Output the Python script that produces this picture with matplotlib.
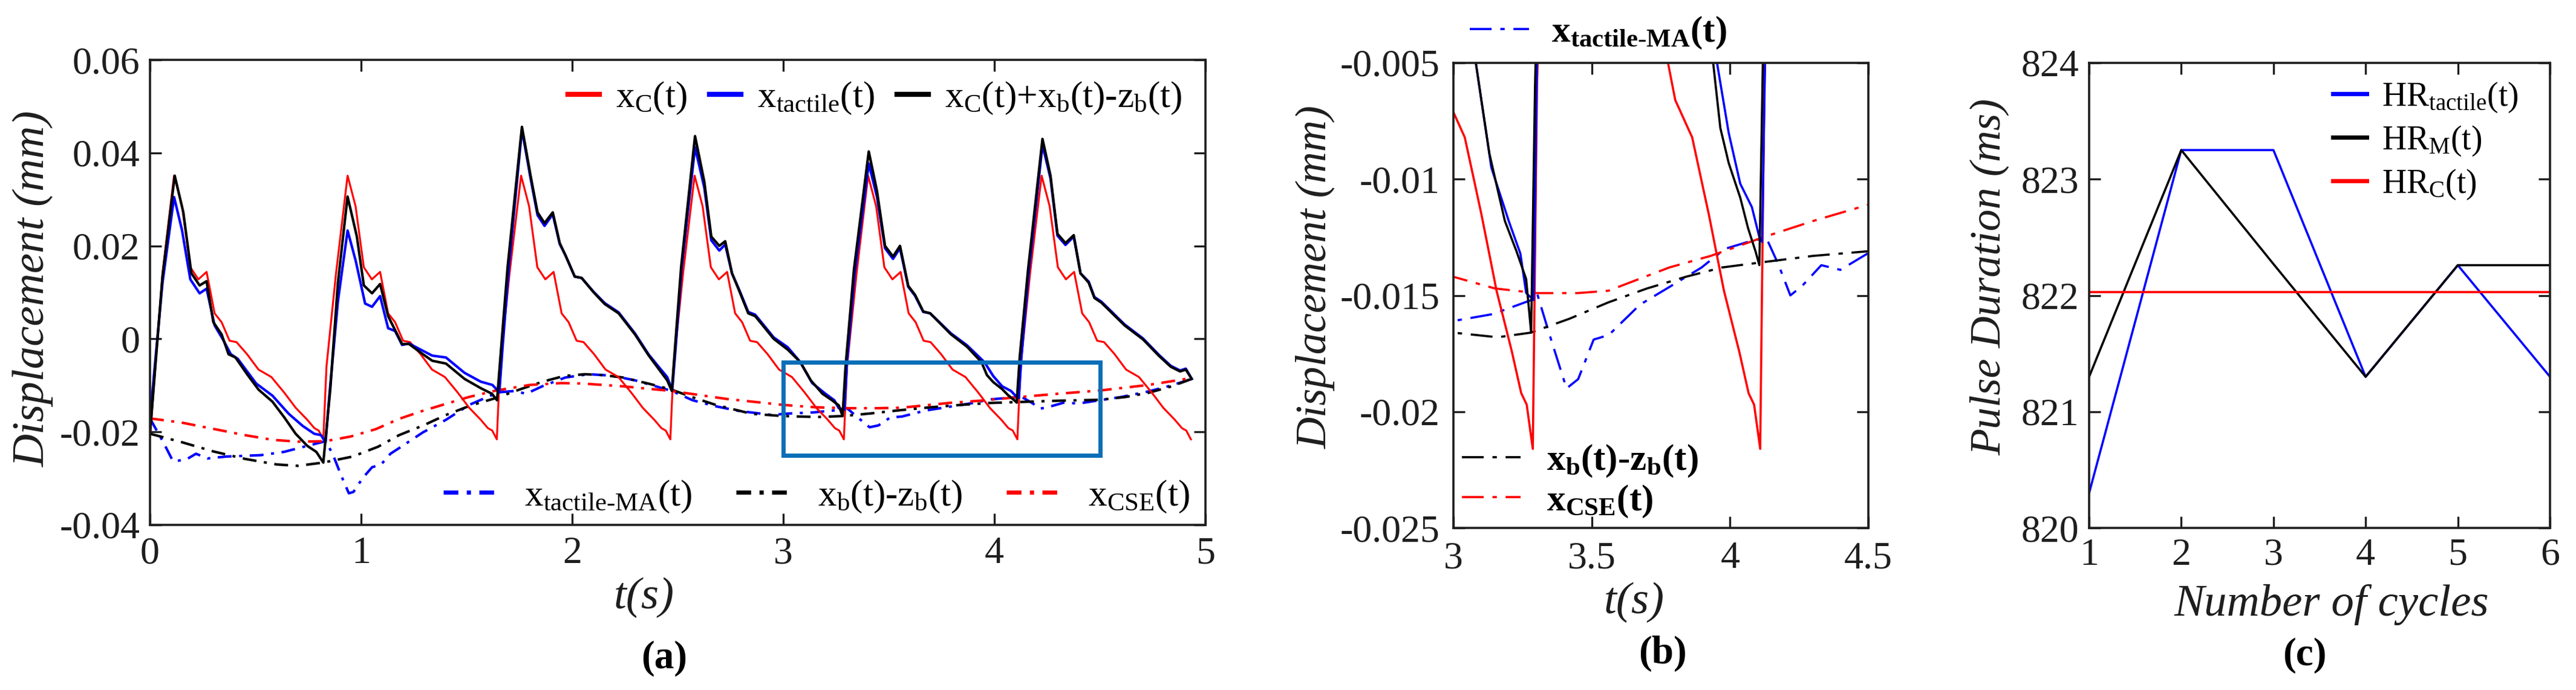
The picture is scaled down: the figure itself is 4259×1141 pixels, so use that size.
import matplotlib
matplotlib.use('Agg')
import matplotlib.pyplot as plt
from matplotlib.patches import Rectangle
from matplotlib.ticker import FuncFormatter

plt.rcParams['font.family'] = 'Liberation Serif'
plt.rcParams['mathtext.fontset'] = 'custom'
plt.rcParams['mathtext.rm'] = 'Liberation Serif'
plt.rcParams['mathtext.it'] = 'Liberation Serif:italic'
plt.rcParams['mathtext.bf'] = 'Liberation Serif:bold'
plt.rcParams['axes.unicode_minus'] = False

# ---- data (t in s, displacement in mm) ----
# x_C(t), red solid
t_c = [0.000, 0.059, 0.114, 0.152, 0.191, 0.229, 0.268, 0.306, 0.339, 0.377, 0.410, 0.460, 0.514, 0.575, 0.635, 0.690, 0.745, 0.779, 0.799,
       0.821, 0.836, 0.881, 0.936, 0.974, 1.013, 1.051, 1.090, 1.128, 1.161, 1.199, 1.232, 1.282, 1.336, 1.397, 1.457, 1.512, 1.567, 1.601, 1.621,
       1.643, 1.658, 1.703, 1.758, 1.796, 1.835, 1.873, 1.912, 1.950, 1.983, 2.021, 2.054, 2.104, 2.158, 2.219, 2.279, 2.334, 2.389, 2.423, 2.443,
       2.465, 2.480, 2.525, 2.580, 2.618, 2.657, 2.695, 2.734, 2.772, 2.805, 2.843, 2.876, 2.926, 2.980, 3.041, 3.101, 3.156, 3.211, 3.245, 3.265,
       3.287, 3.302, 3.347, 3.402, 3.440, 3.479, 3.517, 3.556, 3.594, 3.627, 3.665, 3.698, 3.748, 3.802, 3.863, 3.923, 3.978, 4.033, 4.067, 4.087,
       4.109, 4.124, 4.169, 4.224, 4.262, 4.301, 4.339, 4.378, 4.416, 4.449, 4.487, 4.520, 4.570, 4.624, 4.685, 4.745, 4.800, 4.855, 4.889, 4.909,
       4.931]
x_c = [-0.0212, 0.0140, 0.0351, 0.0285, 0.0154, 0.0128, 0.0144, 0.0055, 0.0036, -0.0004, -0.0007, -0.0033, -0.0066, -0.0082, -0.0115, -0.0148, -0.0174, -0.0192, -0.0197,
       -0.0216, -0.0060, 0.0140, 0.0351, 0.0285, 0.0154, 0.0128, 0.0144, 0.0055, 0.0036, -0.0004, -0.0007, -0.0033, -0.0066, -0.0082, -0.0115, -0.0148, -0.0174, -0.0192, -0.0197,
       -0.0216, -0.0060, 0.0140, 0.0351, 0.0285, 0.0154, 0.0128, 0.0144, 0.0055, 0.0036, -0.0004, -0.0007, -0.0033, -0.0066, -0.0082, -0.0115, -0.0148, -0.0174, -0.0192, -0.0197,
       -0.0216, -0.0060, 0.0140, 0.0351, 0.0285, 0.0154, 0.0128, 0.0144, 0.0055, 0.0036, -0.0004, -0.0007, -0.0033, -0.0066, -0.0082, -0.0115, -0.0148, -0.0174, -0.0192, -0.0197,
       -0.0216, -0.0060, 0.0140, 0.0351, 0.0285, 0.0154, 0.0128, 0.0144, 0.0055, 0.0036, -0.0004, -0.0007, -0.0033, -0.0066, -0.0082, -0.0115, -0.0148, -0.0174, -0.0192, -0.0197,
       -0.0216, -0.0060, 0.0140, 0.0351, 0.0285, 0.0154, 0.0128, 0.0144, 0.0055, 0.0036, -0.0004, -0.0007, -0.0033, -0.0066, -0.0082, -0.0115, -0.0148, -0.0174, -0.0192, -0.0197,
       -0.0216]

# x_C(t)+x_b(t)-z_b(t), black solid
t_comb = [0.000, 0.059, 0.117, 0.158, 0.196, 0.235, 0.268, 0.300, 0.339, 0.372, 0.405, 0.460, 0.514, 0.580, 0.635, 0.690, 0.745, 0.788, 0.821,
          0.854, 0.890, 0.936, 0.980, 1.013, 1.052, 1.090, 1.128, 1.161, 1.194, 1.227, 1.293, 1.337, 1.402, 1.490, 1.567, 1.620, 1.644,
          1.660, 1.694, 1.762, 1.803, 1.836, 1.869, 1.908, 1.941, 1.968, 2.012, 2.045, 2.100, 2.154, 2.220, 2.297, 2.363, 2.417, 2.450, 2.472,
          2.487, 2.516, 2.582, 2.626, 2.659, 2.697, 2.725, 2.757, 2.790, 2.834, 2.867, 2.955, 3.021, 3.081, 3.130, 3.186, 3.228, 3.263, 3.281,
          3.295, 3.335, 3.405, 3.444, 3.482, 3.520, 3.553, 3.592, 3.624, 3.663, 3.696, 3.794, 3.871, 3.939, 3.965, 3.995, 4.037, 4.065, 4.092, 4.106,
          4.120, 4.160, 4.228, 4.266, 4.299, 4.337, 4.376, 4.408, 4.447, 4.474, 4.507, 4.617, 4.704, 4.781, 4.836, 4.880, 4.907, 4.935]
x_comb = [-0.0204, 0.0134, 0.0351, 0.0272, 0.0141, 0.0115, 0.0124, 0.0036, 0.0010, -0.0033, -0.0040, -0.0076, -0.0109, -0.0135, -0.0168, -0.0204, -0.0230, -0.0243, -0.0266,
          -0.0109, 0.0120, 0.0306, 0.0220, 0.0115, 0.0098, 0.0118, 0.0049, 0.0019, -0.0011, -0.0011, -0.0033, -0.0047, -0.0053, -0.0086, -0.0106, -0.0118, -0.0132,
          -0.0040, 0.0154, 0.0456, 0.0351, 0.0272, 0.0249, 0.0272, 0.0206, 0.0180, 0.0134, 0.0131, 0.0101, 0.0075, 0.0055, 0.0010, -0.0036, -0.0069, -0.0089, -0.0112,
          -0.0020, 0.0154, 0.0436, 0.0338, 0.0220, 0.0200, 0.0210, 0.0141, 0.0105, 0.0055, 0.0049, 0.0000, -0.0023, -0.0050, -0.0089, -0.0118, -0.0131, -0.0143, -0.0166,
          -0.0060, 0.0150, 0.0403, 0.0318, 0.0200, 0.0177, 0.0200, 0.0114, 0.0095, 0.0059, 0.0055, 0.0010, -0.0017, -0.0050, -0.0078, -0.0093, -0.0108, -0.0121, -0.0131, -0.0137,
          -0.0040, 0.0150, 0.0430, 0.0351, 0.0226, 0.0206, 0.0223, 0.0141, 0.0121, 0.0088, 0.0078, 0.0029, -0.0001, -0.0037, -0.0060, -0.0070, -0.0066, -0.0086]

# x_tactile(t), blue solid
t_tac = [0.000, 0.059, 0.114, 0.152, 0.191, 0.235, 0.268, 0.306, 0.344, 0.383, 0.416, 0.503, 0.580, 0.657, 0.723, 0.778, 0.810, 0.832,
         0.850, 0.890, 0.936, 0.975, 1.019, 1.052, 1.090, 1.128, 1.161, 1.194, 1.227, 1.337, 1.402, 1.490, 1.567, 1.622, 1.655,
         1.670, 1.700, 1.762, 1.803, 1.836, 1.869, 1.908, 1.941, 1.968, 2.012, 2.045, 2.100, 2.154, 2.220, 2.297, 2.363, 2.417, 2.450, 2.474,
         2.490, 2.518, 2.582, 2.626, 2.659, 2.697, 2.725, 2.757, 2.790, 2.834, 2.867, 2.955, 3.021, 3.081, 3.137, 3.200, 3.242, 3.263, 3.290,
         3.302, 3.338, 3.405, 3.444, 3.482, 3.520, 3.553, 3.592, 3.624, 3.663, 3.696, 3.794, 3.871, 3.953, 3.995, 4.037, 4.079, 4.106, 4.116,
         4.128, 4.162, 4.228, 4.266, 4.299, 4.337, 4.376, 4.408, 4.447, 4.474, 4.507, 4.617, 4.704, 4.781, 4.836, 4.880, 4.907, 4.935]
x_tac = [-0.0171, 0.0120, 0.0305, 0.0233, 0.0128, 0.0098, 0.0108, 0.0029, 0.0000, -0.0033, -0.0043, -0.0096, -0.0122, -0.0161, -0.0187, -0.0204, -0.0207, -0.0222,
         -0.0120, 0.0080, 0.0233, 0.0167, 0.0076, 0.0069, 0.0092, 0.0023, 0.0017, -0.0013, -0.0010, -0.0036, -0.0040, -0.0073, -0.0092, -0.0099, -0.0115,
         -0.0020, 0.0154, 0.0450, 0.0345, 0.0266, 0.0243, 0.0268, 0.0204, 0.0180, 0.0134, 0.0131, 0.0102, 0.0077, 0.0057, 0.0012, -0.0034, -0.0064, -0.0082, -0.0110,
         -0.0020, 0.0150, 0.0412, 0.0325, 0.0212, 0.0190, 0.0203, 0.0141, 0.0107, 0.0058, 0.0052, 0.0003, -0.0018, -0.0050, -0.0095, -0.0118, -0.0132, -0.0149, -0.0152,
         -0.0050, 0.0140, 0.0377, 0.0305, 0.0195, 0.0172, 0.0195, 0.0112, 0.0093, 0.0058, 0.0055, 0.0012, -0.0014, -0.0050, -0.0080, -0.0102, -0.0112, -0.0125, -0.0127,
         -0.0040, 0.0140, 0.0417, 0.0345, 0.0222, 0.0202, 0.0220, 0.0141, 0.0123, 0.0090, 0.0080, 0.0031, 0.0001, -0.0035, -0.0058, -0.0068, -0.0064, -0.0086]

# x_tactile-MA(t), blue dash-dot
t_ma = [0.000, 0.065, 0.109, 0.169, 0.218, 0.273, 0.361, 0.525, 0.635, 0.745, 0.832, 0.865, 0.904, 0.942, 0.964, 1.008, 1.052, 1.095,
        1.139, 1.183, 1.293, 1.402, 1.512, 1.649, 1.727, 1.782, 1.858, 1.968, 2.078, 2.187, 2.297, 2.472, 2.571, 2.681, 2.790, 2.955,
        3.000, 3.144, 3.281, 3.302, 3.353, 3.409, 3.451, 3.507, 3.562, 3.674, 3.786, 3.897, 3.981, 4.092, 4.134, 4.176, 4.218, 4.260,
        4.330, 4.399, 4.497, 4.600, 4.730, 4.840, 4.935]
x_ma = [-0.0171, -0.0224, -0.0263, -0.0260, -0.0247, -0.0257, -0.0253, -0.0250, -0.0243, -0.0230, -0.0220, -0.0247, -0.0292, -0.0332, -0.0329, -0.0299, -0.0276, -0.0270,
        -0.0247, -0.0234, -0.0201, -0.0174, -0.0142, -0.0115, -0.0112, -0.0118, -0.0102, -0.0083, -0.0076, -0.0079, -0.0089, -0.0112, -0.0132, -0.0145, -0.0155, -0.0164,
        -0.0161, -0.0158, -0.0152, -0.0149, -0.0169, -0.0190, -0.0186, -0.0169, -0.0167, -0.0154, -0.0146, -0.0138, -0.0130, -0.0126, -0.0126, -0.0137, -0.0150, -0.0146,
        -0.0137, -0.0139, -0.0132, -0.0125, -0.0113, -0.0100, -0.0086]

# x_b(t)-z_b(t), black dash-dot
t_bz = [0.00, 0.15, 0.30, 0.45, 0.60, 0.70, 0.82, 0.96, 1.08, 1.18, 1.30, 1.40, 1.52, 1.64, 1.75, 1.86, 1.96, 2.06, 2.15, 2.24,
        2.36, 2.47, 2.58, 2.68, 2.85, 3.00, 3.16, 3.28, 3.42, 3.56, 3.70, 3.84, 3.97, 4.10, 4.30, 4.50, 4.62, 4.73, 4.84, 4.935]
x_bz = [-0.0204, -0.0222, -0.0242, -0.0258, -0.0270, -0.0273, -0.0266, -0.0253, -0.0232, -0.0207, -0.0185, -0.0164, -0.0143, -0.0127, -0.0109, -0.0092, -0.0080, -0.0076, -0.0078, -0.0083,
        -0.0096, -0.0109, -0.0127, -0.0142, -0.0161, -0.0166, -0.0168, -0.0166, -0.0160, -0.0153, -0.0147, -0.0142, -0.0138, -0.0136, -0.0133, -0.0131, -0.0125, -0.0116, -0.0102, -0.0086]

# x_CSE(t), red dash-dot
t_cse = [0.00, 0.15, 0.306, 0.45, 0.58, 0.70, 0.83, 0.95, 1.07, 1.18, 1.29, 1.40, 1.51, 1.64, 1.80, 1.95, 2.05, 2.24, 2.47, 2.73,
         3.00, 3.15, 3.30, 3.45, 3.56, 3.78, 3.93, 4.12, 4.30, 4.50, 4.73, 4.935]
x_cse = [-0.0171, -0.0180, -0.0194, -0.0207, -0.0217, -0.0221, -0.0220, -0.0210, -0.0194, -0.0172, -0.0155, -0.0140, -0.0125, -0.0111, -0.0099, -0.0095, -0.0096, -0.0102, -0.0112, -0.0129,
         -0.0142, -0.0147, -0.0149, -0.0149, -0.0148, -0.0138, -0.0133, -0.0125, -0.0118, -0.0111, -0.0099, -0.0084]

# pulse duration per cycle (ms)
cycles = [1, 2, 3, 4, 5, 6]
hr_tactile = [820.30, 823.25, 823.25, 821.30, 822.26, 821.30]
hr_m = [821.30, 823.25, 822.27, 821.30, 822.26, 822.26]
hr_c = [822.03, 822.03, 822.03, 822.03, 822.03, 822.03]

a_yticks = [-0.04, -0.02, 0, 0.02, 0.04, 0.06]
a_xticks = [0, 1, 2, 3, 4, 5]
b_yticks = [-0.025, -0.02, -0.015, -0.01, -0.005]
b_xticks = [3, 3.5, 4, 4.5]
c_yticks = [820, 821, 822, 823, 824]
zoom_t = (3.0, 4.5)
zoom_v = (-0.025, -0.005)

RED, BLUE, BLACK = '#ff0000', '#0000ff', '#000000'
INK = '#1e1e1e'

W, H = 4259, 1141
fig = plt.figure(figsize=(W / 100, H / 100), dpi=100)


def box(l, t, r, b):
    return [l / W, 1 - b / H, (r - l) / W, (b - t) / H]


def style(ax, pad):
    for s in ax.spines.values():
        s.set_linewidth(2.6)
        s.set_color(INK)
    ax.tick_params(direction='in', length=14, width=2.4, top=True, right=True,
                   labelsize=46, pad=pad, colors=INK)
    fmt = FuncFormatter(lambda v, p: '%g' % v)
    ax.xaxis.set_major_formatter(fmt)
    ax.yaxis.set_major_formatter(fmt)


dd_a = (5.5, 3, 1.2, 3)
dd_b = (10, 4, 2, 4)

# ---------------- (a) ----------------
ax = fig.add_axes(box(248, 99, 1993, 868))
ax.plot(t_ma, x_ma, color=BLUE, lw=3.0, dashes=dd_a)
ax.plot(t_bz, x_bz, color=BLACK, lw=3.0, dashes=dd_a)
ax.plot(t_cse, x_cse, color=RED, lw=3.0, dashes=dd_a)
l_c, = ax.plot(t_c, x_c, color=RED, lw=2.3)
l_tac, = ax.plot(t_tac, x_tac, color=BLUE, lw=3.0)
l_comb, = ax.plot(t_comb, x_comb, color=BLACK, lw=3.0)
ax.add_patch(Rectangle((zoom_t[0], zoom_v[0]), zoom_t[1] - zoom_t[0], zoom_v[1] - zoom_v[0],
                       fill=False, edgecolor='#0a6fb8', lw=5, zorder=5))
ax.set_xlim(0, 5)
ax.set_ylim(-0.04, 0.06)
ax.set_xticks(a_xticks)
ax.set_yticks(a_yticks)
style(ax, 14)
ax.tick_params(axis='y', pad=12)

leg1 = ax.legend([l_c, l_tac, l_comb],
                 [r'$\mathrm{x_{C}(t)}$', r'$\mathrm{x_{tactile}(t)}$',
                  r'$\mathrm{x_{C}(t){+}x_{b}(t)\text{-}z_{b}(t)}$'],
                 loc='center right', bbox_to_anchor=(0.978, 0.917), ncol=3, frameon=False,
                 fontsize=44, handlelength=0.85, handletextpad=0.45, columnspacing=0.6,
                 borderpad=0, borderaxespad=0)
for h in leg1.get_lines():
    h.set_linewidth(6)
ax.add_artist(leg1)
h_ma, = ax.plot([], [], color=BLUE, lw=5, dashes=(3.5, 2, 1, 2))
h_bz, = ax.plot([], [], color=BLACK, lw=5, dashes=(3.5, 2, 1, 2))
h_cse, = ax.plot([], [], color=RED, lw=5, dashes=(3.5, 2, 1, 2))
ax.legend([h_ma, h_bz, h_cse],
          [r'$\mathrm{x_{tactile\text{-}MA}(t)}$', r'$\mathrm{x_{b}(t)\text{-}z_{b}(t)}$',
           r'$\mathrm{x_{CSE}(t)}$'],
          loc='center right', bbox_to_anchor=(0.985, 0.061), ncol=3, frameon=False,
          fontsize=44, handlelength=1.5, handletextpad=0.7, columnspacing=1.2,
          borderpad=0, borderaxespad=0)
ax.text(-0.1106, 0.508, 'Displacement (mm)', transform=ax.transAxes, rotation=90,
        ha='center', va='center', fontsize=54, style='italic', color=INK)
ax.text(0.468, -0.156, 't(s)', transform=ax.transAxes, ha='center', va='center',
        fontsize=54, style='italic', color=INK)
ax.text(0.487, -0.288, '(a)', transform=ax.transAxes, ha='center', va='center',
        fontsize=47, fontweight='bold')

# ---------------- (b) ----------------
ax = fig.add_axes(box(2403, 104, 3089, 873))
m_ma, = ax.plot(t_ma, x_ma, color=BLUE, lw=2.6, dashes=dd_b)
m_bz, = ax.plot(t_bz, x_bz, color=BLACK, lw=2.6, dashes=dd_b)
m_cse, = ax.plot(t_cse, x_cse, color=RED, lw=2.6, dashes=dd_b)
ax.plot(t_c, x_c, color=RED, lw=2.6)
ax.plot(t_tac, x_tac, color=BLUE, lw=2.6)
ax.plot(t_comb, x_comb, color=BLACK, lw=2.6)
ax.set_xlim(*zoom_t)
ax.set_ylim(*zoom_v)
ax.set_xticks(b_xticks)
ax.set_yticks(b_yticks)
style(ax, 16)
top = ax.legend([m_ma], [r'$\mathbf{x_{tactile\text{-}MA}(t)}$'],
                loc='center left', bbox_to_anchor=(0.04, 1.064), frameon=False,
                fontsize=44, handlelength=1.6, handletextpad=0.6,
                borderpad=0, borderaxespad=0)
ax.add_artist(top)
ax.legend([m_bz, m_cse], [r'$\mathbf{x_{b}(t)\text{-}z_{b}(t)}$', r'$\mathbf{x_{CSE}(t)}$'],
          loc='center left', bbox_to_anchor=(0.02, 0.10), frameon=False,
          fontsize=44, handlelength=1.6, handletextpad=0.7, labelspacing=0.12,
          borderpad=0, borderaxespad=0)
ax.text(-0.332, 0.54, 'Displacement (mm)', transform=ax.transAxes, rotation=90,
        ha='center', va='center', fontsize=52, style='italic', color=INK)
ax.text(0.436, -0.161, 't(s)', transform=ax.transAxes, ha='center', va='center',
        fontsize=54, style='italic', color=INK)
ax.text(0.504, -0.27, '(b)', transform=ax.transAxes, ha='center', va='center',
        fontsize=47, fontweight='bold')

# ---------------- (c) ----------------
ax = fig.add_axes(box(3454, 104, 4216, 873))
ax.plot(cycles, hr_tactile, color=BLUE, lw=2.6, label=r'$\mathrm{HR_{tactile}(t)}$')
ax.plot(cycles, hr_m, color=BLACK, lw=2.6, label=r'$\mathrm{HR_{M}(t)}$')
ax.plot(cycles, hr_c, color=RED, lw=2.6, label=r'$\mathrm{HR_{C}(t)}$')
ax.set_xlim(1, 6)
ax.set_ylim(820, 824)
ax.set_xticks(cycles)
ax.set_yticks(c_yticks)
style(ax, 12)
leg = ax.legend(loc='center left', bbox_to_anchor=(0.529, 0.832), frameon=False,
                fontsize=40, handlelength=1.0, handletextpad=0.45, labelspacing=0.3,
                borderpad=0, borderaxespad=0)
for h in leg.get_lines():
    h.set_linewidth(5)
ax.text(-0.215, 0.54, 'Pulse Duration (ms)', transform=ax.transAxes, rotation=90,
        ha='center', va='center', fontsize=52, style='italic', color=INK)
ax.text(0.526, -0.165, 'Number of cycles', transform=ax.transAxes, ha='center', va='center',
        fontsize=54, style='italic', color=INK)
ax.text(0.468, -0.274, '(c)', transform=ax.transAxes, ha='center', va='center',
        fontsize=47, fontweight='bold')

fig.savefig('out.png', dpi=100)
